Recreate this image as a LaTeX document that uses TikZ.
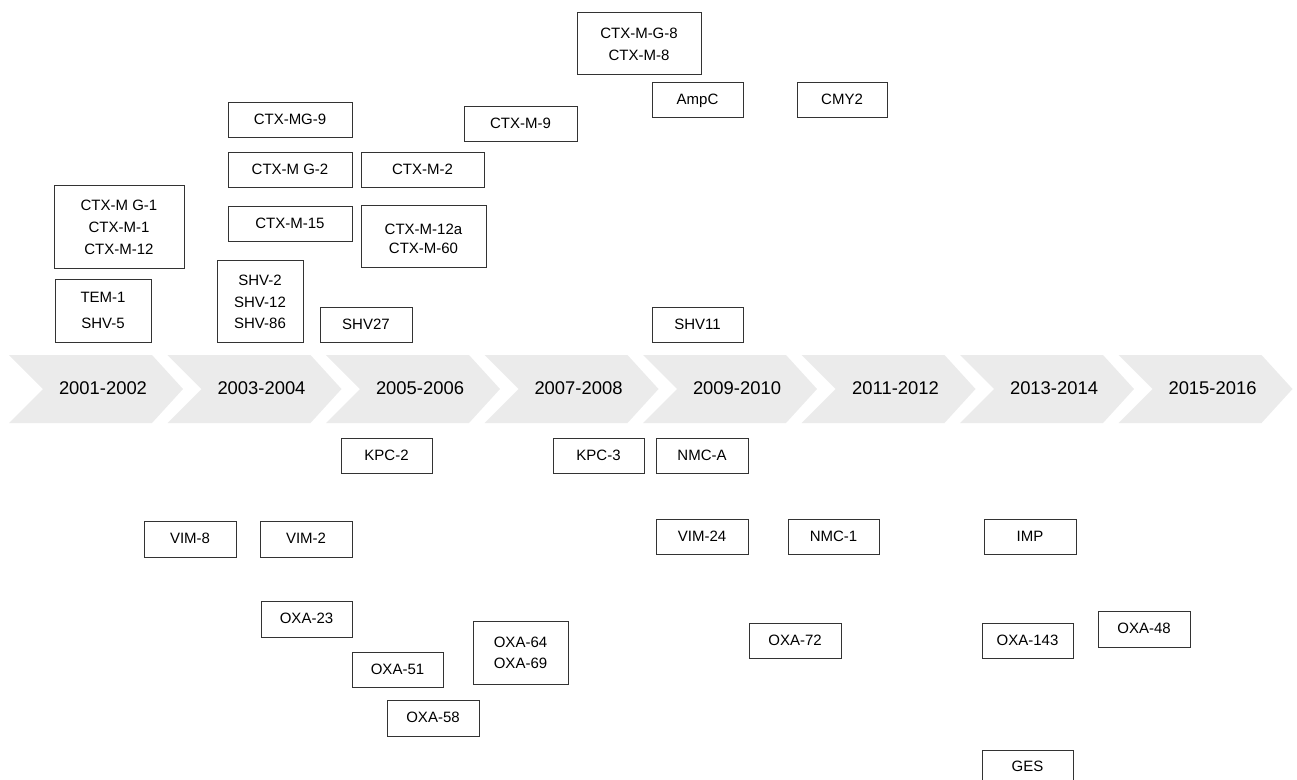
\documentclass[tikz,border=0pt]{standalone}
\usepackage{fontspec}
\setmainfont{Liberation Sans}
\definecolor{chevgray}{HTML}{EBEBEB}
\definecolor{boxline}{HTML}{333333}
\tikzset{
  box/.style={draw=boxline, line width=1pt, inner sep=0pt, outer sep=0pt,
    font=\fontsize{15}{21.5}\selectfont, text=black},
  yearlabel/.style={font=\fontsize{18.4}{22}\selectfont, text=black, inner sep=0pt},
  chevron/.style={fill=chevgray, draw=none}
}
% \bx{name}{x1}{y1}{x2}{y2}{text shift down}{text}
\newcommand{\bx}[7]{\node[box, minimum width={(#4-#2)*1pt}, minimum height={(#5-#3)*1pt}] (#1) at ({(#2+#4)/2},{(#3+#5)/2})
  {\raisebox{-#6pt}[\height][\depth]{\begin{tabular}{@{}c@{}}#7\end{tabular}}};}
\begin{document}
\begin{tikzpicture}[x=1pt,y=-1pt]
\useasboundingbox (0,0) rectangle (1297,779);
% chevrons
\foreach \i/\lab in {0/2001-2002,1/2003-2004,2/2005-2006,3/2007-2008,4/2009-2010,5/2011-2012,6/2013-2014,7/2015-2016}{
  \pgfmathsetmacro{\xo}{9+158.5*\i}
  \fill[chevron] (\xo,355) -- ({\xo+143},355) -- ({\xo+174},389) -- ({\xo+143},423) -- (\xo,423) -- ({\xo+34},389) -- cycle;
  \node[yearlabel] (y\i) at ({\xo+94},388) {\lab};
}
% boxes above the timeline
\bx{ctxmg1}{54}{185}{184}{268}{1.5}{CTX-M G-1\\[0.5pt]CTX-M-1\\[0.5pt]CTX-M-12}
\bx{tem}{55}{279}{151}{342}{0.5}{TEM-1\\[4.5pt]SHV-5}
\bx{shv2}{217}{260}{303}{342}{2}{SHV-2\\SHV-12\\SHV-86}
\bx{shv27}{320}{307}{412}{342}{0.5}{SHV27}
\bx{ctxmg9}{228}{102}{352}{137}{0.5}{CTX-MG-9}
\bx{ctxmg2}{228}{152}{352}{187}{0.5}{CTX-M G-2}
\bx{ctxm2}{361}{152}{484}{187}{0.5}{CTX-M-2}
\bx{ctxm15}{228}{206}{352}{241}{0.5}{CTX-M-15}
\bx{ctxm12a}{361}{205}{486}{267}{3.5}{CTX-M-12a\\[-2pt]CTX-M-60}
\bx{ctxm9}{464}{106}{577}{141}{0.5}{CTX-M-9}
\bx{ctxmg8}{577}{12}{701}{74}{2}{CTX-M-G-8\\[0.5pt]CTX-M-8}
\bx{ampc}{652}{82}{743}{117}{0.5}{AmpC}
\bx{cmy2}{797}{82}{887}{117}{0.5}{CMY2}
\bx{shv11}{652}{307}{743}{342}{0.5}{SHV11}
% boxes below the timeline
\bx{kpc2}{341}{438}{432}{473}{0.5}{KPC-2}
\bx{kpc3}{553}{438}{644}{473}{0.5}{KPC-3}
\bx{nmca}{656}{438}{748}{473}{0.5}{NMC-A}
\bx{vim8}{144}{521}{236}{557}{0.5}{VIM-8}
\bx{vim2}{260}{521}{352}{557}{0.5}{VIM-2}
\bx{vim24}{656}{519}{748}{554}{0.5}{VIM-24}
\bx{nmc1}{788}{519}{879}{554}{0.5}{NMC-1}
\bx{imp}{984}{519}{1076}{554}{0.5}{IMP}
\bx{oxa23}{261}{601}{352}{637}{0.5}{OXA-23}
\bx{oxa51}{352}{652}{443}{687}{0.5}{OXA-51}
\bx{oxa58}{387}{700}{479}{736}{0.5}{OXA-58}
\bx{oxa64}{473}{621}{568}{684}{1}{OXA-64\\OXA-69}
\bx{oxa72}{749}{623}{841}{658}{0.5}{OXA-72}
\bx{oxa143}{982}{623}{1073}{658}{0.5}{OXA-143}
\bx{oxa48}{1098}{611}{1190}{647}{0.5}{OXA-48}
\bx{ges}{982}{750}{1073}{784}{0.5}{GES}
\end{tikzpicture}
\end{document}
